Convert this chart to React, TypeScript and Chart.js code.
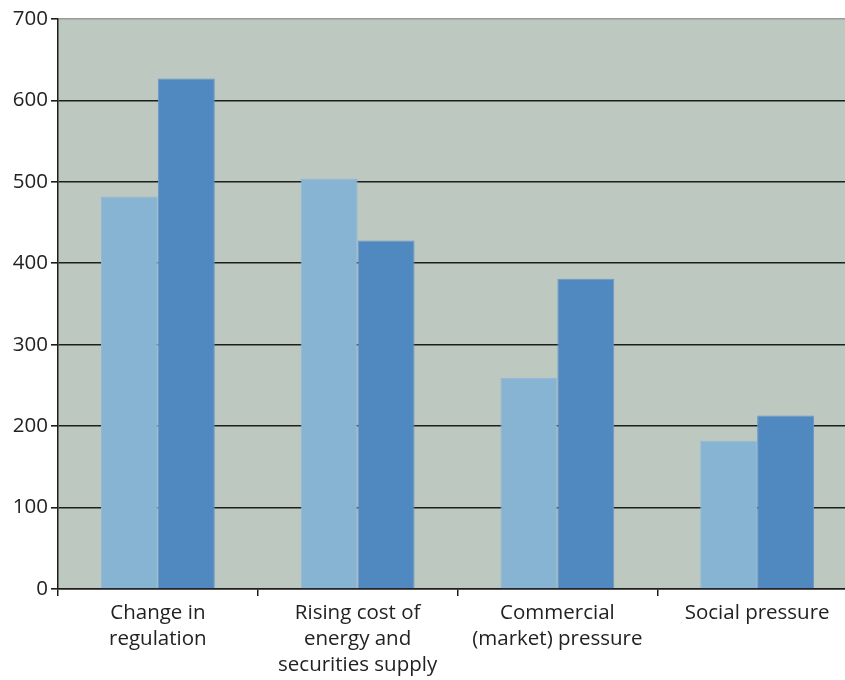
import React, { useEffect, useRef } from "react";
import { Chart, registerables } from "chart.js";

Chart.register(...registerables);

const categories: string[][] = [
  ["Change in", "regulation"],
  ["Rising cost of", "energy and", "securities supply"],
  ["Commercial", "(market) pressure"],
  ["Social pressure"],
];
const seriesLight: number[] = [482, 504, 259, 182];
const seriesDark: number[] = [627, 428, 381, 213];
const yTicks: number[] = [0, 100, 200, 300, 400, 500, 600, 700];

const plotBg = {
  id: "plotBg",
  beforeDraw(chart: any) {
    const { ctx, chartArea } = chart;
    if (!chartArea) return;
    ctx.save();
    ctx.fillStyle = "#bcc8c0";
    ctx.fillRect(chartArea.left, chartArea.top, chartArea.right - chartArea.left, chartArea.bottom - chartArea.top);
    ctx.restore();
  },
};

export default function App() {
  const ref = useRef<HTMLCanvasElement | null>(null);
  useEffect(() => {
    if (!ref.current) return;
    const family = "'Open Sans', 'Noto Sans', sans-serif";
    const chart = new Chart(ref.current, {
      type: "bar",
      data: {
        labels: categories,
        datasets: [
          {
            data: seriesLight,
            backgroundColor: "#88b4d4",
            borderColor: "#92bad8",
            borderWidth: 1,
            categoryPercentage: 0.57,
            barPercentage: 1,
          },
          {
            data: seriesDark,
            backgroundColor: "#5088c0",
            borderColor: "#6a98c8",
            borderWidth: 1,
            categoryPercentage: 0.57,
            barPercentage: 1,
          },
        ],
      },
      options: {
        responsive: false,
        animation: false,
        devicePixelRatio: 1,
        layout: { padding: { top: 19, right: 3, left: 0, bottom: 0 } },
        plugins: {
          legend: { display: false },
          tooltip: { enabled: false },
        },
        scales: {
          x: {
            grid: {
              display: true,
              drawOnChartArea: false,
              drawTicks: true,
              tickLength: 7,
              color: "#1e1e1e",
              lineWidth: 1.5,
              offset: true,
            },
            border: { display: true, color: "#1e1e1e", width: 1.5 },
            ticks: {
              color: "#222",
              font: { family, size: 20.5, lineHeight: 1.27 },
              padding: 4,
              maxRotation: 0,
              autoSkip: false,
            },
            afterFit(scale: any) {
              scale.height = 91;
            },
          },
          y: {
            min: 0,
            max: 700,
            afterBuildTicks(scale: any) {
              scale.ticks = yTicks.map((v) => ({ value: v }));
            },
            grid: {
              color: (c: any) => (c.tick && c.tick.value === 700 ? "#9a9a9a" : "#1e1e1e"),
              tickColor: "#1e1e1e",
              lineWidth: 1.6,
              tickLength: 7,
              drawTicks: true,
            },
            border: { display: true, color: "#1e1e1e", width: 1.5 },
            ticks: {
              color: "#222",
              font: { family, size: 20.5 },
              padding: 3,
            },
            afterFit(scale: any) {
              scale.width = 58;
            },
          },
        },
      },
      plugins: [plotBg],
    });
    return () => chart.destroy();
  }, []);

  return (
    <div style={{ position: "fixed", left: 0, top: 0, width: 845, height: 680, overflow: "hidden", background: "#fff" }}>
      <canvas ref={ref} width={860} height={680} style={{ display: "block", width: 860, height: 680 }} />
    </div>
  );
}
